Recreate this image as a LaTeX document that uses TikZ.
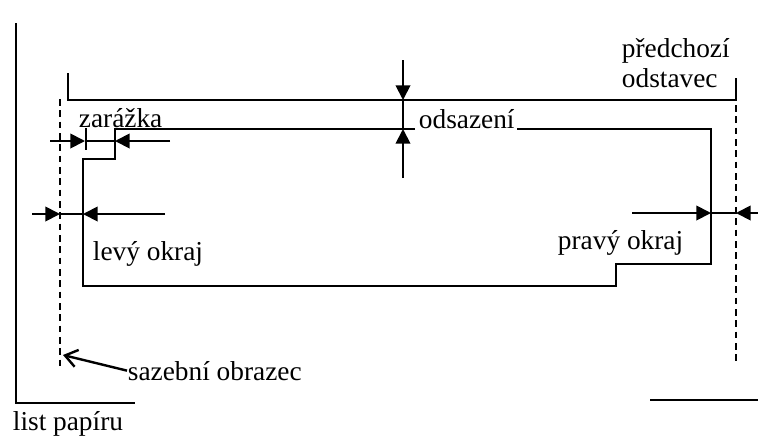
\documentclass[tikz,border=0pt]{standalone}
\usepackage{fontspec}
\setmainfont{Liberation Serif}
\usetikzlibrary{arrows.meta}

\tikzset{
  txt/.style={inner sep=0pt, anchor=base west, font=\fontsize{20.5}{22}\selectfont},
  dimarrow/.style={-{Triangle[length=11pt,width=11pt]}},
  typearea/.style={dash pattern=on 5pt off 3.5pt},
}

\begin{document}
\begin{tikzpicture}[x=0.75pt,y=-0.75pt,line width=1.4pt]
			\useasboundingbox (0,0) rectangle (758,437);
			% list papiru
			\coordinate (sheetTop) at (16,23);
			\coordinate (sheetCorner) at (16,403);
			\coordinate (sheetEnd) at (135,403);
			\draw (sheetTop)--(sheetCorner)--(sheetEnd);
			\coordinate (sheetR) at (650,400);
			\coordinate (sheetREnd) at (758,400);
			\draw (sheetR)--(sheetREnd);
			\node[txt] (sheet) at (12,430) {list papíru};
			% sazebni obrazec
			\coordinate (areaLT) at (60,99);
			\coordinate (areaLB) at (60,368);
			\coordinate (areaRT) at (736,105);
			\coordinate (areaRB) at (736,362);
			\draw[typearea] (areaLT)--(areaLB);
			\draw[typearea] (areaRT)--(areaRB);
			\node[txt] (area) at (127,380) {sazební obrazec};
			\coordinate (areaTip) at (63,355);
			\draw[line width=1.8pt,-{Straight Barb[length=9pt,width=13pt]}] (area.west)--(areaTip);
			% predchozi odstavec
			\coordinate (prevL) at (68,73);
			\coordinate (prevLB) at (68,100);
			\coordinate (prevRB) at (736,100);
			\coordinate (prevR) at (736,78);
			\draw (prevL)--(prevLB)--(prevRB)--(prevR);
			\node[txt,align=left,anchor=base west] (prev) at (621,87) {předchozí\\[0.5pt]odstavec};
			% odstavec
			\node[txt] (gap) at (418,128) {odsazení};
			\coordinate (parA) at (115,129);
			\coordinate (parB) at (115,159);
			\coordinate (parC) at (83,159);
			\coordinate (parD) at (83,286);
			\coordinate (parE) at (616,286);
			\coordinate (parF) at (616,264);
			\coordinate (parG) at (711,264);
			\coordinate (parH) at (711,129);
			\coordinate (gapL) at (415,129);
			\coordinate (gapR) at (517,129);
			\draw (gapL)--(parA)--(parB)--(parC)--(parD)--(parE)--(parF)--(parG)--(parH)--(gapR);
			% odsazeni
			\coordinate (gapTop) at (403,60);
			\coordinate (gapUp) at (403,100);
			\coordinate (gapDown) at (403,129);
			\coordinate (gapBot) at (403,178);
			\draw[dimarrow] (gapTop)--(gapUp);
			\draw[dimarrow] (gapBot)--(gapDown);
			\draw[line width=0.9pt] (gapUp)--(gapDown);
			% zarazka
			\node[txt] (indent) at (78,127) {zarážka};
			\coordinate (indL) at (50,141);
			\coordinate (indA) at (85,141);
			\coordinate (indB) at (115,141);
			\coordinate (indR) at (170,141);
			\draw[dimarrow] (indL)--(indA);
			\draw[dimarrow] (indR)--(indB);
			\draw[line width=0.9pt] (indA)--(indB);
			\draw[line width=0.9pt] (86,128)--(86,150);
			% levy okraj
			\node[txt] (left) at (92,260) {levý okraj};
			\coordinate (leftL) at (32,214);
			\coordinate (leftA) at (60,214);
			\coordinate (leftB) at (83,214);
			\coordinate (leftR) at (165,214);
			\draw[dimarrow] (leftL)--(leftA);
			\draw[dimarrow] (leftR)--(leftB);
			\draw[line width=0.9pt] (leftA)--(leftB);
			% pravy okraj
			\node[txt] (right) at (557,249) {pravý okraj};
			\coordinate (rightL) at (632,213);
			\coordinate (rightA) at (711,213);
			\coordinate (rightB) at (736,213);
			\coordinate (rightR) at (758,213);
			\draw[dimarrow] (rightL)--(rightA);
			\draw[dimarrow] (rightR)--(rightB);
			\draw[line width=0.9pt] (rightA)--(rightB);
		\end{tikzpicture}
\end{document}
